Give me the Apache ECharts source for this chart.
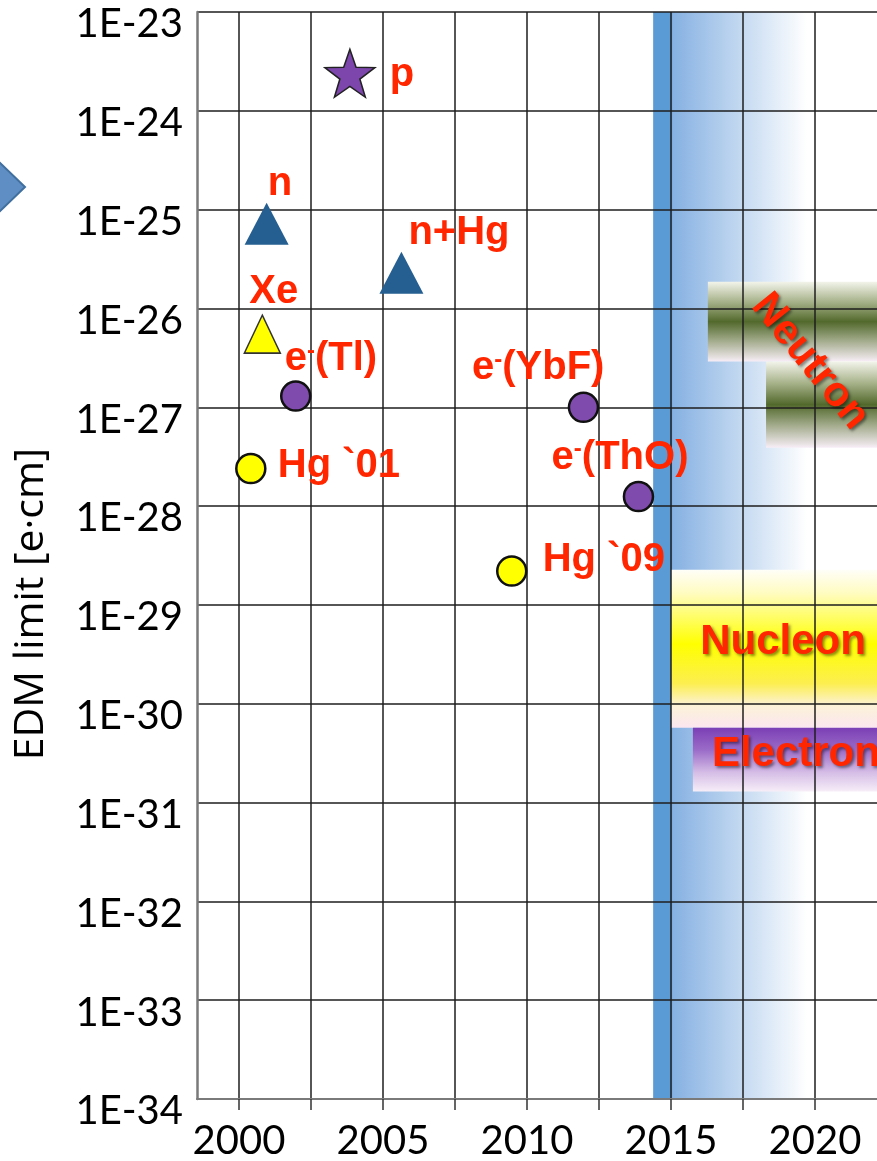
<!DOCTYPE html>
<html><head><meta charset="utf-8">
<script src="https://cdn.jsdelivr.net/npm/echarts@6/dist/echarts.min.js"></script>
<style>html,body{margin:0;padding:0;background:#fff}#c{width:877px;height:1161px}</style>
</head><body><div id="c"></div>
<script>
// ---- data ----
const yearTicks = [2000, 2002.5, 2005, 2007.5, 2010, 2012.5, 2015, 2017.5, 2020];
const yearLabels = [2000, 2005, 2010, 2015, 2020];
const edmExponents = [-34, -33, -32, -31, -30, -29, -28, -27, -26, -25, -24, -23];

const pointNames  = ['p', 'n', 'n+Hg', 'Xe', 'e-(Tl)', 'Hg `01', 'e-(YbF)', 'e-(ThO)', 'Hg `09'];
const pointYears  = [2003.85, 2000.96, 2005.64, 2000.81, 2001.97, 2000.41, 2011.96, 2013.87, 2009.47];
const pointLimits = [2.4e-24, 7.2e-26, 2.3e-26, 5.5e-27, 1.3e-27, 2.4e-28, 1.0e-27, 1.25e-28, 2.2e-29];
const pointKinds  = ['proton', 'neutron', 'neutron', 'xenon', 'electron', 'mercury', 'electron', 'electron', 'mercury'];

const regionNames  = ['future', 'Neutron', 'Neutron', 'Nucleon', 'Electron'];
const regionStart  = [2014.38, 2016.28, 2018.3, 2015.0, 2015.76];
const regionEnd    = [2020.0, 2022.5, 2022.5, 2022.5, 2022.5];
const regionTop    = [1e-23, 1.86e-26, 2.9e-27, 2.27e-29, 5.7e-31];
const regionBottom = [1e-34, 2.9e-27, 3.9e-28, 5.7e-31, 1.29e-31];

const regionLabelText   = ['Neutron', 'Nucleon', 'Electron'];
const regionLabelYear   = [2019.83, 2018.89, 2016.42];
const regionLabelLimit  = [2.9e-27, 4.14e-30, 3.04e-31];

// ---- layout / style ----
const RED = '#ff2600';
const STAR = 'path://M0,-10 L2.35,-3.24 L9.51,-3.09 L3.8,1.24 L5.88,8.09 L0,4 L-5.88,8.09 L-3.8,1.24 L-9.51,-3.09 L-2.35,-3.24 Z';
const kindStyle = {
  proton:   {symbol: STAR, size: [50, 48], color: '#7d46ad', border: '#222', bw: 1.5},
  neutron:  {symbol: 'triangle', size: [44, 42], color: '#255e91', border: '#255e91', bw: 0},
  xenon:    {symbol: 'triangle', size: [36, 38], color: '#ffff00', border: '#333', bw: 1.5},
  electron: {symbol: 'circle', size: 29, color: '#7f4bad', border: '#111', bw: 2.5},
  mercury:  {symbol: 'circle', size: 29, color: '#ffff00', border: '#111', bw: 2.5}
};
const labelAlign  = ['left', 'left', 'left', 'left', 'left', 'left', 'right', 'right', 'left'];
const labelOffset = [[40, 2], [1, -40], [7, -40], [-13, -42], [-11, -37], [27, -3], [21, -39], [50, -39], [31, -11]];
const regionLabelRotate = [-51, 0, 0];
const regionLabelAlign  = ['center', 'center', 'left'];

const lg10 = Math.log10;
const LG = (x, y, x2, y2, stops) => new echarts.graphic.LinearGradient(x, y, x2, y2, stops.map(s => ({offset: s[0], color: s[1]})));
const neutronFill = () => LG(0, 0, 0, 1, [[0, '#f2f4ea'], [0.25, '#a7b28a'], [0.5, '#52692c'], [0.75, '#a6ae90'], [1, '#f7eef6']]);
const regionFill = {
  future: LG(0, 0, 1, 0, [[0, '#5b9bd5'], [0.117, '#5b9bd5'], [0.12, '#86b1e2'], [0.95, '#ffffff'], [1, '#ffffff']]),
  Nucleon: LG(0, 0, 0, 1, [[0, '#fffef8'], [0.15, '#fffcc0'], [0.47, '#ffff00'], [0.72, '#fcee50'], [0.86, '#fcf2d8'], [1, '#fbe6f0']]),
  Electron: LG(0, 0, 0, 1, [[0, '#7b3fb5'], [0.35, '#9b6cc8'], [0.7, '#d5bde6'], [1, '#f7eef8']])
};

function fmtName(n) {
  if (n.startsWith('e-')) return '{b|e}{s|-}{b|' + n.slice(2) + '}';
  return '{b|' + n + '}';
}
const LABEL_FONT = '"Liberation Sans", Arial, sans-serif';
const rich = {
  b: {fontSize: 40, fontWeight: 'bold', color: RED, fontFamily: LABEL_FONT, lineHeight: 40},
  s: {fontSize: 24, fontWeight: 'bold', color: RED, fontFamily: LABEL_FONT, lineHeight: 24, verticalAlign: 'top'}
};

const pointData = pointNames.map((n, i) => {
  const k = kindStyle[pointKinds[i]];
  return {
    name: n,
    value: [pointYears[i], lg10(pointLimits[i])],
    symbol: k.symbol,
    symbolSize: k.size,
    itemStyle: {color: k.color, borderColor: k.border, borderWidth: k.bw, opacity: 1},
    label: {
      show: true, position: 'inside', align: labelAlign[i], verticalAlign: 'middle',
      offset: labelOffset[i], formatter: fmtName(n), rich: rich, opacity: 1
    }
  };
});

const areaData = regionNames.map((n, i) => [
  {xAxis: regionStart[i], yAxis: lg10(regionTop[i]), itemStyle: {color: n === 'Neutron' ? neutronFill() : regionFill[n], opacity: 1}},
  {xAxis: regionEnd[i], yAxis: lg10(regionBottom[i])}
]);

const regionLabelData = regionLabelText.map((t, i) => ({
  name: t,
  value: [regionLabelYear[i], lg10(regionLabelLimit[i])],
  label: {
    show: true, position: 'inside', formatter: t, rotate: regionLabelRotate[i],
    align: regionLabelAlign[i], verticalAlign: 'middle', opacity: 1,
    fontSize: 42, fontWeight: 'bold', color: RED, fontFamily: LABEL_FONT,
    textShadowColor: 'rgba(0,0,0,0.45)', textShadowBlur: 3, textShadowOffsetX: 2, textShadowOffsetY: 2
  }
}));

const chart = echarts.init(document.getElementById('c'));
const AXIS_FONT = 'Lato, "Open Sans", sans-serif';
chart.setOption({
  animation: false,
  backgroundColor: '#ffffff',
  grid: {left: 197, top: 12, right: -10, bottom: 62, outerBoundsMode: 'none', containLabel: false},
  xAxis: {
    type: 'value', min: 1998.542, max: 2022.5, z: 3,
    axisLine: {show: true, onZero: false, lineStyle: {color: '#7a7a7a', width: 2}},
    axisTick: {show: true, length: 11, customValues: yearTicks, lineStyle: {color: '#333', width: 1.5}},
    axisLabel: {customValues: yearLabels, margin: 22, color: '#000', fontSize: 40, fontFamily: AXIS_FONT,
      formatter: v => String(Math.round(v))},
    splitLine: {show: true, lineStyle: {color: '#1e1e1e', width: 1.5}}
  },
  yAxis: {
    type: 'value', min: edmExponents[0], max: edmExponents[edmExponents.length - 1], interval: 1, z: 3,
    axisLine: {show: true, onZero: false, lineStyle: {color: '#7a7a7a', width: 2.5}},
    axisTick: {show: false},
    axisLabel: {margin: 14, color: '#000', fontSize: 40, fontFamily: AXIS_FONT, verticalAlign: 'top',
      lineHeight: 25,
      customValues: edmExponents, formatter: v => '1E' + Math.round(v)},
    splitLine: {show: true, lineStyle: {color: '#1e1e1e', width: 1.5}}
  },
  series: [
    {
      type: 'scatter', name: 'regions', z: 1, data: [], silent: true,
      markArea: {silent: true, z: 1, label: {show: false}, data: areaData}
    },
    {
      type: 'scatter', name: 'limits', z: 5, clip: false, data: pointData
    },
    {
      type: 'scatter', name: 'regionLabels', z: 6, clip: false, symbolSize: 0.1,
      itemStyle: {color: 'rgba(0,0,0,0)'}, data: regionLabelData
    }
  ],
  graphic: [
    {type: 'polygon', shape: {points: [[-2, 161], [25, 187], [-2, 213]]},
     style: {fill: '#5e8ec4', stroke: '#41709f', lineWidth: 2}},
    {type: 'text', x: 31, y: 604, rotation: Math.PI / 2,
     style: {text: 'EDM limit [e·cm]', font: '41px "Open Sans", Lato, sans-serif', fill: '#000',
       align: 'center', verticalAlign: 'middle'}}
  ]
});
</script>
</body></html>
